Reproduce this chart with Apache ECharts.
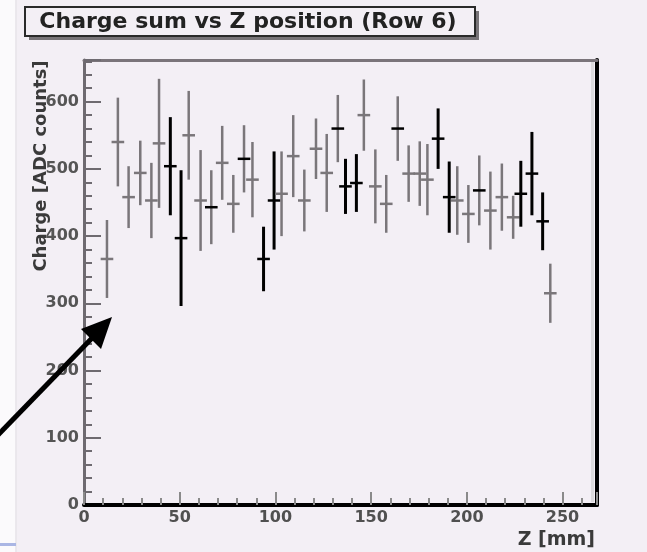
<!DOCTYPE html>
<html>
<head>
<meta charset="utf-8">
<script src="https://cdn.jsdelivr.net/npm/echarts@6/dist/echarts.min.js"></script>
<style>
  html, body { margin: 0; padding: 0; background: #f3eff5; }
  #chart { width: 647px; height: 552px; }
</style>
</head>
<body>
<div id="chart"></div>
<script>
// ---- data ----
var zPosition = [12.0, 17.7, 23.3, 29.4, 35.2, 39.2, 45.1, 50.7, 54.7, 60.9, 66.5, 72.2, 78.0, 83.6, 88.0,
  93.8, 99.3, 103.2, 109.3, 115.1, 121.2, 126.8, 132.6, 136.6, 142.3, 146.2, 152.2, 157.9, 163.9, 169.6,
  175.4, 179.4, 185.0, 190.8, 195.0, 200.8, 206.5, 212.3, 218.3, 224.2, 228.2, 234.0, 239.6, 243.6];
var chargeSum = [366, 540, 458, 494, 453, 538, 504, 397, 550, 453, 443, 509, 448, 515, 484,
  366, 453, 463, 519, 453, 530, 494, 560, 474, 479, 580, 474, 448, 560, 493,
  493, 484, 545, 458, 453, 433, 468, 438, 458, 428, 463, 493, 422, 315];
var chargeErr = [58, 66, 46, 48, 56, 96, 73, 101, 66, 75, 55, 55, 43, 50, 56,
  48, 73, 63, 61, 46, 45, 58, 50, 41, 43, 53, 55, 43, 48, 42,
  48, 53, 45, 53, 51, 43, 52, 58, 50, 32, 49, 62, 43, 44];
var zHalfWidth = 3.3;
var xTickLabels = ['0', '50', '100', '150', '200', '250'];
var yTickLabels = ['0', '100', '200', '300', '400', '500', '600'];
// indices drawn darker in the reference rendering
var darkBars = [6, 7, 15, 16, 23, 24, 32, 33, 40, 41, 42];
var darkMarks = [10, 13, 22, 28, 36];

var seriesData = zPosition.map(function (z, i) { return [z, chargeSum[i], chargeErr[i]]; });

var chart = echarts.init(document.getElementById('chart'), null, { renderer: 'canvas' });
var FONT = '"DejaVu Sans", "Liberation Sans", Arial, sans-serif';

var option = {
  backgroundColor: '#f3eff5',
  animation: false,
  grid: { left: 84, right: 50, top: 60, bottom: 47, show: false },
  xAxis: [{
    type: 'value', min: 0, max: 268, interval: 50, position: 'bottom',
    axisLine: { show: true, onZero: true, lineStyle: { color: '#000', width: 4 } },
    axisTick: { show: true, inside: true, length: 13, lineStyle: { color: '#8a8a8a', width: 2 } },
    minorTick: { show: true, splitNumber: 5, length: 7, lineStyle: { color: '#8a8a8a', width: 2 } },
    splitLine: { show: false },
    axisLabel: {
      color: '#505050', fontSize: 16, fontWeight: 'bold', fontFamily: FONT, margin: 5,
      showMaxLabel: false,
      formatter: function (v) { var s = String(v); return xTickLabels.indexOf(s) >= 0 ? s : ''; }
    },
    z: 5
  }, {
    type: 'value', min: 0, max: 268, position: 'top',
    axisLine: { show: true, onZero: false, lineStyle: { color: '#7a747a', width: 3 } },
    axisTick: { show: false }, axisLabel: { show: false }, splitLine: { show: false }
  }],
  yAxis: [{
    type: 'value', min: 0, max: 662, interval: 100, position: 'left',
    axisLine: { show: true, onZero: false, lineStyle: { color: '#6e6a70', width: 3 } },
    axisTick: { show: true, inside: true, length: 17, lineStyle: { color: '#6e6a70', width: 2 } },
    minorTick: { show: true, splitNumber: 5, length: 8, lineStyle: { color: '#6e6a70', width: 2 } },
    splitLine: { show: false },
    axisLabel: {
      color: '#555', fontSize: 16, fontWeight: 'bold', fontFamily: FONT, margin: 5,
      showMaxLabel: false,
      formatter: function (v) { var s = String(v); return yTickLabels.indexOf(s) >= 0 ? s : ''; }
    }
  }, {
    type: 'value', min: 0, max: 662, position: 'right',
    axisLine: { show: true, onZero: false, lineStyle: { color: '#000', width: 4 } },
    axisTick: { show: false }, axisLabel: { show: false }, splitLine: { show: false }
  }],
  series: [{
    type: 'custom',
    xAxisIndex: 0, yAxisIndex: 0,
    data: seriesData,
    encode: { x: 0, y: 1 },
    renderItem: function (params, api) {
      var x = api.value(0), y = api.value(1), e = api.value(2);
      var top = api.coord([x, y + e]);
      var bot = api.coord([x, y - e]);
      var l = api.coord([x - zHalfWidth, y]);
      var r = api.coord([x + zHalfWidth, y]);
      var i = params.dataIndex;
      var dark = darkBars.indexOf(i) >= 0;
      var darkM = dark || darkMarks.indexOf(i) >= 0;
      return {
        type: 'group',
        children: [
          { type: 'line', shape: { x1: top[0], y1: top[1], x2: bot[0], y2: bot[1] },
            style: { stroke: dark ? '#000' : '#7a767a', lineWidth: dark ? 3 : 2.5 } },
          { type: 'line', shape: { x1: l[0], y1: l[1], x2: r[0], y2: r[1] },
            style: { stroke: darkM ? '#000' : '#7a767a', lineWidth: 2.5 } }
        ]
      };
    }
  }],
  graphic: [
    // left white strip of the surrounding page
    { type: 'rect', shape: { x: 0, y: 0, width: 15, height: 552 }, style: { fill: '#fbfafc' }, z: 0, silent: true },
    { type: 'line', shape: { x1: 16, y1: 0, x2: 16, y2: 552 }, style: { stroke: '#e2e0e4', lineWidth: 1 }, z: 0 },
    { type: 'rect', shape: { x: 0, y: 543, width: 16, height: 3 }, style: { fill: '#aab6e4' }, z: 1 },
    // light inner edge of the right frame
    { type: 'rect', shape: { x: 591, y: 62, width: 3, height: 440 }, style: { fill: '#dcdadd' }, z: 1 },
    // title box with shadow
    { type: 'rect', shape: { x: 29, y: 11, width: 450, height: 29 }, style: { fill: '#777377' }, z: 10 },
    { type: 'rect', shape: { x: 25, y: 7, width: 450, height: 29 }, style: { fill: '#f3eff5', stroke: '#2a2a2a', lineWidth: 2 }, z: 11 },
    { type: 'text', x: 248, y: 22, z: 12,
      style: { text: 'Charge sum vs Z position (Row 6)', fill: '#222', font: 'bold 22px ' + FONT,
        textAlign: 'center', textVerticalAlign: 'middle' } },
    // y axis title
    { type: 'text', x: 41, y: 166, rotation: Math.PI / 2, z: 20,
      style: { text: 'Charge [ADC counts]', fill: '#3a3a3a', font: 'bold 18px ' + FONT,
        textAlign: 'center', textVerticalAlign: 'middle' } },
    // x axis title
    { type: 'text', x: 595, y: 540, z: 20,
      style: { text: 'Z [mm]', fill: '#3a3a3a', font: 'bold 19px ' + FONT,
        textAlign: 'right', textVerticalAlign: 'middle' } },
    // annotation arrow
    { type: 'line', shape: { x1: -5, y1: 438, x2: 96, y2: 334 }, style: { stroke: '#000', lineWidth: 5 }, z: 30 },
    { type: 'polygon', shape: { points: [[112, 317], [81, 329], [101, 349]] }, style: { fill: '#000' }, z: 30 }
  ]
};
chart.setOption(option);
</script>
</body>
</html>
